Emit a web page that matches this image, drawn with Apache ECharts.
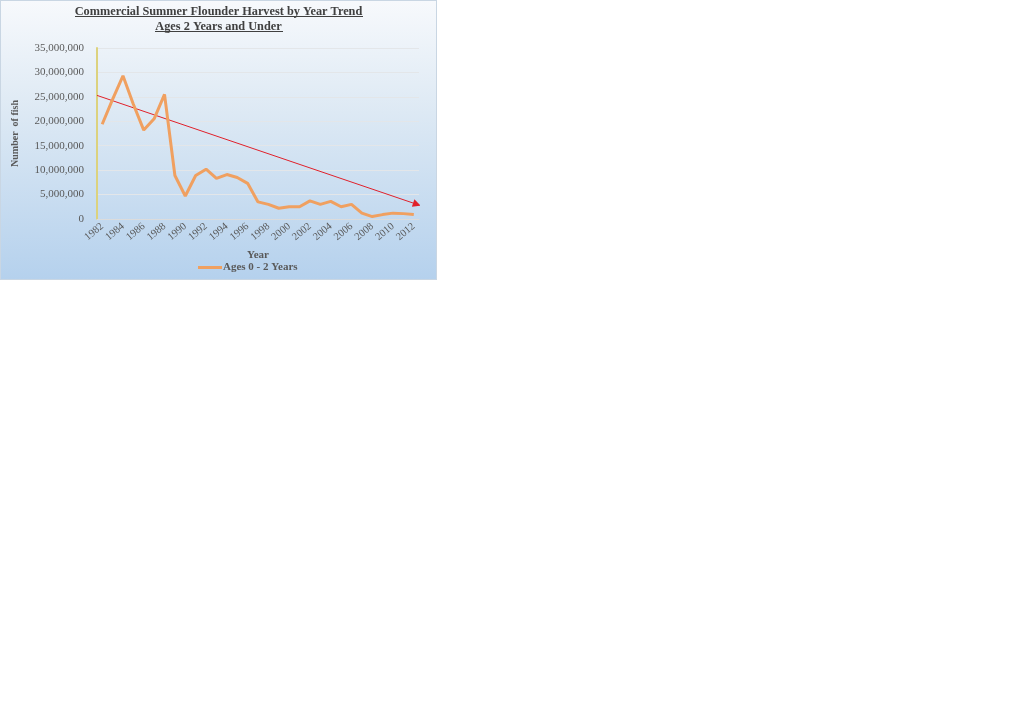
<!DOCTYPE html>
<html>
<head>
<meta charset="utf-8">
<script src="https://cdn.jsdelivr.net/npm/echarts@6/dist/echarts.min.js"></script>
<style>
  html, body { margin: 0; padding: 0; background: #fff; }
  #chart {
    position: absolute; left: 0; top: 0;
    width: 435px; height: 278px;
    border: 1px solid #c9d6e3;
    background: linear-gradient(to bottom, #f7f9fc 0%, #dde9f4 40%, #b5d1ed 100%);
  }
</style>
</head>
<body>
<div id="chart"></div>
<script>
// years on the x axis
const years = ['1982','1983','1984','1985','1986','1987','1988','1989','1990','1991',
  '1992','1993','1994','1995','1996','1997','1998','1999','2000','2001',
  '2002','2003','2004','2005','2006','2007','2008','2009','2010','2011','2012'];

// Ages 0 - 2 Years, number of fish
const ages0to2 = [19400000, 24500000, 29300000, 23500000, 18200000, 20500000, 25500000,
  8900000, 4700000, 8900000, 10200000, 8300000, 9100000, 8500000, 7300000,
  3500000, 3000000, 2200000, 2500000, 2500000, 3700000, 3000000, 3600000,
  2500000, 3000000, 1200000, 500000, 900000, 1200000, 1100000, 900000];

// hand drawn trend arrow: [category position, value] at start and end
const trendStart = [-0.5, 25300000];
const trendEnd = [30.3, 3000000];

const fontSerif = '"Liberation Serif", "DejaVu Serif", serif';
const textColor = '#595959';

const myChart = echarts.init(document.getElementById('chart'));

const option = {
  animation: false,
  title: {
    text: 'Commercial Summer Flounder Harvest by Year Trend\nAges 2 Years and Under',
    left: 'center',
    top: -2,
    textStyle: {
      fontFamily: fontSerif,
      fontSize: 12.3,
      fontWeight: 'bold',
      color: '#404040',
      lineHeight: 15
    }
  },
  graphic: [
    // underline of the two title lines
    { type: 'line', shape: { x1: 74, y1: 15.5, x2: 362, y2: 15.5 }, style: { stroke: '#404040', lineWidth: 1 } },
    { type: 'line', shape: { x1: 154, y1: 30.5, x2: 282, y2: 30.5 }, style: { stroke: '#404040', lineWidth: 1 } }
  ],
  legend: {
    bottom: 1,
    left: 192,
    itemWidth: 24,
    itemHeight: 3,
    icon: 'rect',
    itemGap: 4,
    data: ['Ages 0 - 2 Years'],
    textStyle: {
      fontFamily: fontSerif,
      fontSize: 11,
      fontWeight: 'bold',
      color: textColor,
      padding: [0, 0, 0, -4]
    }
  },
  grid: {
    left: 96,
    top: 47,
    right: 17,
    bottom: 60,
    outerBoundsMode: 'none'
  },
  xAxis: [
    {
      type: 'category',
      data: years,
      boundaryGap: true,
      name: 'Year',
      nameLocation: 'middle',
      nameGap: 29,
      nameTextStyle: {
        fontFamily: fontSerif,
        fontSize: 11,
        fontWeight: 'bold',
        color: textColor
      },
      axisLine: { lineStyle: { color: '#dcdcdc' } },
      axisTick: { show: false },
      axisLabel: {
        interval: 1,
        rotate: 40,
        margin: 6,
        fontFamily: fontSerif,
        fontSize: 10.5,
        color: textColor
      }
    },
    {
      // helper axis for the trend arrow, same span as the categories
      type: 'value',
      min: -0.5,
      max: 30.5,
      show: false
    }
  ],
  yAxis: {
    type: 'value',
    min: 0,
    max: 35000000,
    interval: 5000000,
    name: 'Number  of fish',
    nameLocation: 'middle',
    nameGap: 77,
    nameTextStyle: {
      fontFamily: fontSerif,
      fontSize: 10,
      fontWeight: 'bold',
      color: textColor
    },
    axisLine: { show: true, onZero: false, lineStyle: { color: '#dcd27e', width: 2 } },
    axisTick: { show: false },
    splitLine: { lineStyle: { color: '#e3e6e9' } },
    axisLabel: {
      margin: 13,
      fontFamily: fontSerif,
      fontSize: 11,
      color: textColor,
      formatter: v => v.toLocaleString('en-US')
    }
  },
  series: [
    {
      name: 'Ages 0 - 2 Years',
      type: 'line',
      data: ages0to2,
      symbol: 'none',
      color: '#f0a060',
      lineStyle: { width: 3, color: '#f0a060' }
    },
    {
      name: 'trend',
      type: 'lines',
      coordinateSystem: 'cartesian2d',
      xAxisIndex: 1,
      symbol: ['none', 'triangle'],
      symbolSize: 8,
      lineStyle: { color: '#e0202a', width: 1, opacity: 1 },
      data: [{ coords: [trendStart, trendEnd] }]
    }
  ]
};

myChart.setOption(option);
</script>
</body>
</html>
